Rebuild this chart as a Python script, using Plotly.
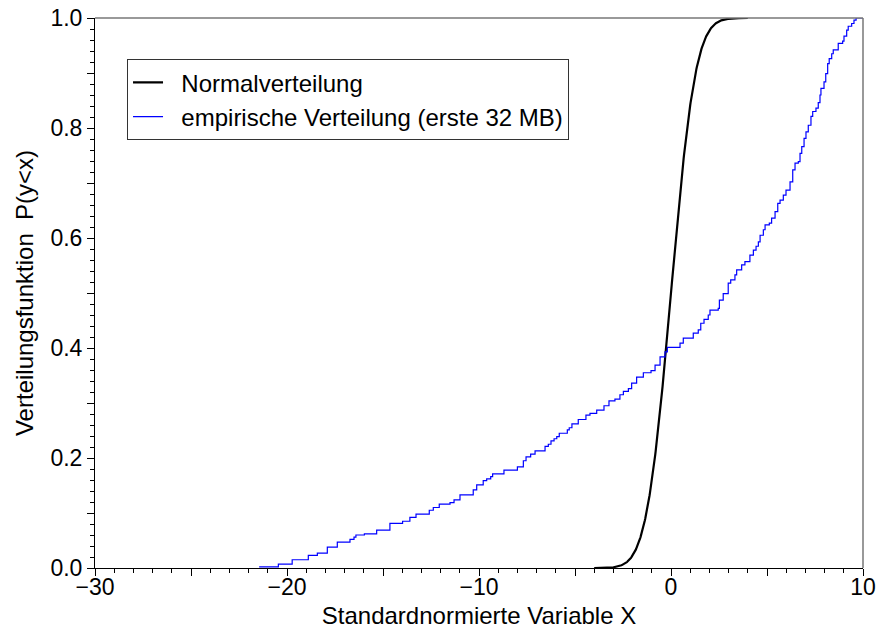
import math
import plotly.graph_objects as go

# Empirical distribution function (step locations and level after each step)
emp_x = [-21.45, -20.45, -19.73, -18.89, -18.42, -17.90, -17.38, -16.72, -16.51, -16.41,
         -15.97, -15.33, -14.64, -13.98, -13.60, -13.28, -12.59, -12.38, -12.07, -11.51,
         -11.30, -10.99, -10.30, -10.12, -9.78, -9.60, -9.39, -9.29, -8.70, -8.00,
         -7.69, -7.55, -7.31, -7.08, -6.56, -6.39, -6.25, -6.09, -5.95, -5.82,
         -5.40, -5.30, -5.16, -4.83, -4.43, -4.22, -3.87, -3.49, -3.23, -2.92,
         -2.66, -2.48, -2.22, -2.05, -1.79, -1.44, -1.04, -0.83, -0.57, -0.31,
         -0.19, 0.47, 0.64, 1.16, 1.42, 1.55, 1.72, 1.94, 2.03, 2.46,
         2.52, 2.72, 2.98, 3.11, 3.33, 3.42, 3.68, 3.85, 4.11, 4.29,
         4.43, 4.55, 4.64, 4.81, 4.90, 5.12, 5.24, 5.42, 5.56, 5.68,
         5.85, 5.99, 6.20, 6.34, 6.46, 6.63, 6.72, 6.81, 6.93, 7.03,
         7.15, 7.29, 7.38, 7.55, 7.67, 7.76, 7.81, 7.97, 8.06, 8.16,
         8.24, 8.37, 8.45, 8.71, 8.94, 9.01, 9.15, 9.23, 9.41, 9.53,
         9.64, 10.0]
emp_y = [0.002, 0.007, 0.015, 0.023, 0.027, 0.038, 0.047, 0.052, 0.056, 0.060,
         0.062, 0.069, 0.081, 0.085, 0.092, 0.098, 0.105, 0.110, 0.116, 0.119,
         0.124, 0.133, 0.142, 0.151, 0.159, 0.162, 0.166, 0.171, 0.178, 0.184,
         0.195, 0.202, 0.207, 0.213, 0.221, 0.225, 0.231, 0.235, 0.239, 0.245,
         0.251, 0.255, 0.262, 0.270, 0.278, 0.281, 0.287, 0.295, 0.304, 0.307,
         0.315, 0.321, 0.326, 0.336, 0.347, 0.355, 0.359, 0.369, 0.384, 0.393,
         0.401, 0.409, 0.418, 0.427, 0.433, 0.445, 0.452, 0.460, 0.469, 0.472,
         0.487, 0.499, 0.518, 0.524, 0.533, 0.542, 0.551, 0.557, 0.569, 0.578,
         0.585, 0.593, 0.605, 0.615, 0.624, 0.627, 0.636, 0.648, 0.663, 0.669,
         0.678, 0.687, 0.702, 0.724, 0.736, 0.739, 0.754, 0.766, 0.781, 0.793,
         0.805, 0.821, 0.830, 0.836, 0.846, 0.860, 0.872, 0.884, 0.899, 0.917,
         0.926, 0.935, 0.942, 0.954, 0.958, 0.967, 0.978, 0.985, 0.990, 0.996,
         1.000, 1.000]

# Standard normal distribution function on [-4, 4]
mu, sigma = 0.0, 1.0
n_pts = 401
norm_x = [-4 + 8 * i / (n_pts - 1) for i in range(n_pts)]
norm_y = [0.5 * (1 + math.erf((v - mu) / (sigma * math.sqrt(2)))) for v in norm_x]

x_ticks = [-30, -25, -20, -15, -10, -5, 0, 5, 10]
x_labels = ["\u221230", "", "\u221220", "", "\u221210", "", "0", "", "10"]
y_ticks = [0.0, 0.1, 0.2, 0.3, 0.4, 0.5, 0.6, 0.7, 0.8, 0.9, 1.0]
y_labels = ["0.0", "", "0.2", "", "0.4", "", "0.6", "", "0.8", "", "1.0"]

FONT = "Liberation Sans, Arial, sans-serif"
NBSP = "\u00a0"

fig = go.Figure()
fig.add_trace(go.Scatter(x=norm_x, y=norm_y, mode="lines",
                         name=NBSP * 2 + "Normalverteilung",
                         line=dict(color="black", width=2.2)))
fig.add_trace(go.Scatter(x=emp_x, y=emp_y, mode="lines", line_shape="hv",
                         name=NBSP * 2 + "empirische Verteilung (erste 32 MB)",
                         line=dict(color="#0000ff", width=1.2)))

axis_common = dict(showline=True, linecolor="black", linewidth=1, ticks="outside",
                   tickcolor="black", ticklen=7, tickwidth=1, showgrid=False,
                   zeroline=False, mirror=False, automargin=False,
                   tickfont=dict(family=FONT, size=23, color="black"))

fig.update_layout(
    width=876, height=629,
    margin=dict(l=95, r=13, t=18, b=61),
    paper_bgcolor="white", plot_bgcolor="white",
    font=dict(family=FONT, size=23, color="black"),
    xaxis=dict(range=[-30, 10], tickmode="array", tickvals=x_ticks, ticktext=x_labels,
               ticklabelstandoff=-9,
               minor=dict(dtick=1, ticks="outside", ticklen=4, tickcolor="black"),
               title=dict(text="Standardnormierte Variable X", standoff=14,
                          font=dict(family=FONT, size=24)),
               **axis_common),
    yaxis=dict(range=[0, 1], tickmode="array", tickvals=y_ticks, ticktext=y_labels,
               minor=dict(dtick=0.02, ticks="outside", ticklen=4, tickcolor="black"),
               title=dict(text="Verteilungsfunktion  P(y<x)", standoff=10,
                          font=dict(family=FONT, size=24)),
               **axis_common),
    legend=dict(x=0.0417, y=0.925, xanchor="left", yanchor="top",
                bgcolor="white", bordercolor="#333333", borderwidth=1,
                font=dict(family=FONT, size=24), tracegroupgap=0),
    showlegend=True,
)

# Gray frame along the top and right of the plotting area
fig.add_shape(type="line", xref="paper", yref="paper", x0=0, x1=1, y0=1, y1=1,
              line=dict(color="#777777", width=1.5))
fig.add_shape(type="line", xref="paper", yref="paper", x0=1, x1=1, y0=0, y1=1,
              line=dict(color="#777777", width=1.5))

fig.write_html("out.html")
